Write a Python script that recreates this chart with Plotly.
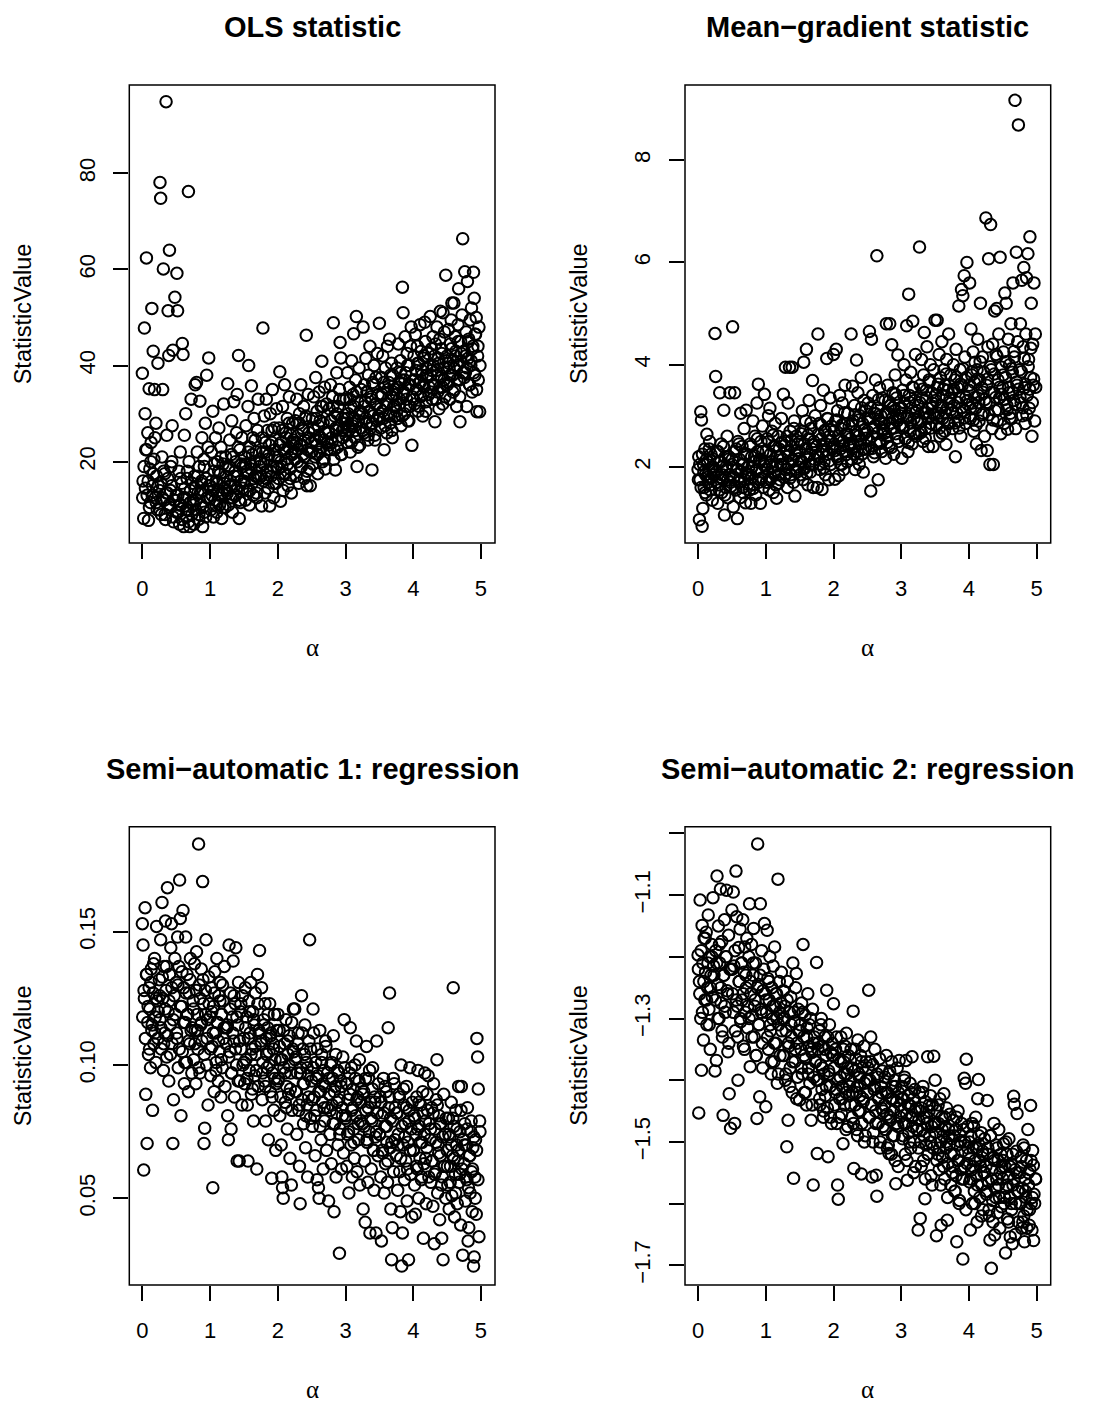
import plotly.graph_objects as go

W, H = 1097, 1405

# ---------------- data ----------------
# alpha draws with the scattered / outlying statistic values
alpha = [
    0.00,0.01,0.02,0.03,0.04,0.05,0.06,0.07,0.08,0.09,0.10,0.11,0.12,0.13,0.14,0.15,0.16,0.17,0.18,0.19,0.20,0.21,0.22,0.23,
    0.25,0.26,0.27,0.28,0.29,0.30,0.31,0.32,0.33,0.34,0.35,0.36,0.37,0.38,0.39,0.40,0.41,0.42,0.43,0.44,0.45,0.46,0.47,0.48,
    0.50,0.51,0.52,0.53,0.54,0.55,0.56,0.57,0.58,0.59,0.60,0.61,0.62,0.63,0.64,0.65,0.66,0.67,0.68,0.69,0.70,0.71,0.72,0.73,
    0.75,0.76,0.77,0.78,0.79,0.80,0.81,0.82,0.83,0.84,0.85,0.86,0.87,0.88,0.89,0.90,0.91,0.92,0.93,0.94,0.95,0.96,0.97,0.98,
    1.00,1.01,1.02,1.03,1.04,1.05,1.06,1.07,1.08,1.09,1.10,1.11,1.12,1.13,1.14,1.15,1.16,1.17,1.18,1.19,1.20,1.21,1.22,1.23,
    1.25,1.26,1.27,1.28,1.29,1.30,1.31,1.32,1.33,1.34,1.35,1.36,1.37,1.38,1.39,1.40,1.41,1.42,1.43,1.44,1.45,1.46,1.47,1.48,
    1.50,1.51,1.52,1.53,1.54,1.55,1.56,1.57,1.58,1.59,1.60,1.61,1.62,1.63,1.64,1.65,1.66,1.67,1.68,1.69,1.70,1.71,1.72,1.73,
    1.75,1.76,1.77,1.78,1.79,1.80,1.81,1.82,1.83,1.84,1.85,1.86,1.87,1.88,1.89,1.90,1.91,1.92,1.93,1.94,1.95,1.96,1.97,1.98,
    2.00,2.01,2.02,2.03,2.04,2.05,2.06,2.07,2.08,2.09,2.10,2.11,2.12,2.13,2.14,2.15,2.16,2.17,2.18,2.19,2.20,2.21,2.22,2.23,
    2.25,2.26,2.27,2.28,2.29,2.30,2.31,2.32,2.33,2.34,2.35,2.36,2.37,2.38,2.39,2.40,2.41,2.42,2.43,2.44,2.45,2.46,2.47,2.48,
    2.50,2.51,2.52,2.53,2.54,2.55,2.56,2.57,2.58,2.59,2.60,2.61,2.62,2.63,2.64,2.65,2.66,2.67,2.68,2.69,2.70,2.71,2.72,2.73,
    2.75,2.76,2.77,2.78,2.79,2.80,2.81,2.82,2.83,2.84,2.85,2.86,2.87,2.88,2.89,2.90,2.91,2.92,2.93,2.94,2.95,2.96,2.97,2.98,
    3.00,3.01,3.02,3.03,3.04,3.05,3.06,3.07,3.08,3.09,3.10,3.11,3.12,3.13,3.14,3.15,3.16,3.17,3.18,3.19,3.20,3.21,3.22,3.23,
    3.25,3.26,3.27,3.28,3.29,3.30,3.31,3.32,3.33,3.34,3.35,3.36,3.37,3.38,3.39,3.40,3.41,3.42,3.43,3.44,3.45,3.46,3.47,3.48,
    3.50,3.51,3.52,3.53,3.54,3.55,3.56,3.57,3.58,3.59,3.60,3.61,3.62,3.63,3.64,3.65,3.66,3.67,3.68,3.69,3.70,3.71,3.72,3.73,
    3.75,3.76,3.77,3.78,3.79,3.80,3.81,3.82,3.83,3.84,3.85,3.86,3.87,3.88,3.89,3.90,3.91,3.92,3.93,3.94,3.95,3.96,3.97,3.98,
    4.00,4.01,4.02,4.03,4.04,4.05,4.06,4.07,4.08,4.09,4.10,4.11,4.12,4.13,4.14,4.15,4.16,4.17,4.18,4.19,4.20,4.21,4.22,4.23,
    4.25,4.26,4.27,4.28,4.29,4.30,4.31,4.32,4.33,4.34,4.35,4.36,4.37,4.38,4.39,4.40,4.41,4.42,4.43,4.44,4.45,4.46,4.47,4.48,
    4.50,4.51,4.52,4.53,4.54,4.55,4.56,4.57,4.58,4.59,4.60,4.61,4.62,4.63,4.64,4.65,4.66,4.67,4.68,4.69,4.70,4.71,4.72,4.73,
    4.75,4.76,4.77,4.78,4.79,4.80,4.81,4.82,4.83,4.84,4.85,4.86,4.87,4.88,4.89,4.90,4.91,4.92,4.93,4.94,4.95,4.96,4.97,4.98,
]

ols_stat = [
    38.4,16.0,8.2,47.8,30.0,22.5,62.4,13.0,26.0,7.8,35.2,18.5,11.5,24.0,51.9,15.0,43.0,20.5,35.0,12.5,28.0,17.0,10.0,40.5,
    14.0,78.1,74.8,9.0,21.0,35.0,60.1,12.0,17.5,8.0,94.9,25.5,13.5,51.4,42.1,64.0,10.5,19.0,15.0,27.5,43.2,7.5,12.0,54.2,
    13.0,59.2,51.4,9.5,18.0,7.0,22.0,11.0,15.5,44.6,42.3,6.5,25.5,12.5,30.0,8.5,16.5,10.0,76.2,20.0,6.5,14.0,33.0,9.0,
    12.0,7.0,17.0,36.0,10.0,36.5,22.0,13.5,8.0,19.0,32.6,11.0,15.5,25.0,6.5,14.0,20.5,9.5,28.0,16.5,38.0,12.5,23.0,41.6,
    15.0,10.0,22.0,13.0,30.5,8.5,18.0,12.0,25.0,16.0,9.5,20.0,14.0,27.0,11.0,17.5,23.0,8.2,13.5,19.5,32.0,15.5,10.5,21.0,
    14.0,36.2,11.0,19.0,24.5,16.0,12.5,28.5,9.5,21.0,32.5,15.0,18.0,13.0,26.0,34.0,17.0,42.1,8.2,22.5,11.5,19.5,25.0,14.5,
    16.0,21.0,12.0,27.5,18.0,14.0,31.5,40.0,11.0,23.0,19.5,35.8,15.5,25.0,13.0,29.0,20.0,17.0,22.0,12.5,26.5,33.0,16.5,19.0,
    20.0,10.8,25.0,47.8,16.0,29.5,13.5,22.0,33.0,18.0,26.5,14.5,21.5,10.8,30.0,17.0,24.0,35.0,19.0,12.5,27.0,22.5,15.5,31.0,
    21.0,16.5,27.0,38.7,11.8,24.0,19.0,31.5,14.0,22.5,36.0,17.5,26.0,20.5,29.0,15.0,23.0,33.5,18.5,25.5,13.5,21.5,28.0,24.5,
    22.0,28.5,17.0,33.0,20.0,25.5,15.5,30.0,23.5,36.0,19.0,27.0,21.5,31.5,16.5,24.5,29.0,46.3,15.0,22.5,34.0,26.0,18.5,15.0,
    24.0,29.0,19.5,33.5,26.5,21.0,37.5,23.5,30.5,17.5,27.5,34.5,22.0,25.0,31.5,40.9,20.0,28.0,24.5,35.5,18.5,26.0,32.0,22.5,
    26.0,31.0,22.5,36.0,28.5,24.0,33.5,48.9,20.5,29.5,18.3,26.5,38.5,23.0,31.5,27.5,35.0,44.8,41.6,21.5,29.0,25.0,33.0,27.0,
    28.0,33.0,24.0,38.5,30.0,26.5,35.5,22.0,31.5,41.0,27.5,34.0,46.6,29.0,25.0,37.0,50.2,19.0,32.5,28.5,39.5,23.5,30.5,35.0,
    30.0,48.0,26.0,36.0,32.5,41.5,28.0,34.5,24.5,38.0,30.5,44.0,27.0,33.5,18.3,36.5,29.5,40.0,25.5,32.0,37.5,28.5,42.5,34.0,
    48.8,31.0,27.0,37.5,34.0,42.0,29.0,22.5,35.5,39.5,32.0,26.0,44.0,30.0,36.5,45.5,28.0,33.5,40.5,25.0,38.0,31.5,35.0,29.5,
    34.0,39.5,29.0,44.5,36.5,32.0,41.0,27.5,37.0,56.3,51.0,34.5,30.0,46.0,38.5,33.0,42.5,28.5,36.0,40.0,31.5,44.0,48.0,23.4,
    37.0,42.0,32.0,46.5,39.0,35.0,44.0,30.5,40.5,36.5,48.5,33.5,43.0,38.0,29.5,41.5,35.5,49.0,45.0,32.5,39.5,37.5,42.5,34.0,
    50.2,38.0,43.5,33.0,46.0,40.0,36.0,28.3,44.5,39.0,48.0,34.5,41.5,31.0,45.5,51.3,37.5,42.5,35.5,51.0,39.5,47.0,33.5,58.8,
    42.0,36.5,47.5,39.5,33.0,44.5,49.5,53.0,38.0,41.0,53.0,35.0,46.0,43.0,31.5,40.0,48.5,56.0,37.0,28.3,45.0,42.5,50.5,66.4,
    43.0,59.5,38.5,47.0,31.5,57.5,41.5,45.5,36.0,49.5,40.0,52.0,34.5,44.0,59.4,54.0,38.0,46.5,50.0,30.4,42.0,37.0,48.0,30.4,
]

meangrad_stat = [
    1.95,2.20,0.97,1.75,3.08,2.92,0.84,1.19,2.05,1.60,2.35,1.85,1.45,2.64,2.10,1.70,1.95,2.50,1.55,2.25,1.80,1.35,2.00,2.15,
    4.61,3.77,1.90,2.30,1.29,1.65,2.10,3.45,1.80,2.45,1.50,2.00,1.75,3.11,1.06,2.20,1.60,1.95,2.60,1.40,2.15,1.85,3.45,1.70,
    2.05,4.74,1.22,1.80,3.45,2.30,1.55,1.95,0.99,2.50,1.70,2.15,1.40,3.05,1.90,2.40,1.60,2.05,2.75,1.75,1.30,3.11,2.25,1.85,
    2.00,1.55,2.45,1.29,2.20,1.80,2.90,1.65,2.10,2.60,1.45,1.95,3.25,2.30,3.62,1.75,2.15,1.29,2.50,1.90,2.80,1.60,2.05,3.42,
    2.10,1.70,2.55,1.95,3.00,1.55,3.15,2.25,1.80,2.70,2.00,1.50,2.40,1.90,2.85,1.65,1.39,2.20,2.60,1.85,2.35,1.75,2.05,2.95,
    2.15,3.42,1.80,2.50,3.95,1.95,2.30,1.60,3.25,2.05,3.95,2.70,1.85,2.40,3.95,2.15,1.70,2.90,1.43,2.25,2.60,1.90,2.45,2.00,
    2.30,1.85,2.65,2.10,3.10,1.75,4.05,2.45,2.00,2.90,4.30,2.20,1.65,2.55,3.30,2.05,1.90,2.75,2.35,3.69,1.60,2.50,2.15,3.00,
    2.40,1.60,4.60,2.20,2.85,1.95,3.20,2.55,1.56,2.30,3.50,2.10,2.70,1.85,2.45,4.12,2.95,2.25,1.75,2.60,3.35,2.05,2.80,2.35,
    4.20,2.45,1.76,2.90,4.30,2.20,3.10,2.60,1.83,3.40,2.35,2.75,2.05,3.25,2.50,1.95,2.85,3.60,2.30,2.65,2.10,3.05,2.40,2.80,
    2.55,4.60,2.15,3.58,2.90,2.40,3.20,1.95,2.70,4.09,2.30,3.45,2.60,2.05,3.00,2.45,3.75,2.25,2.85,1.90,3.30,2.65,2.35,3.10,
    2.70,3.25,2.35,4.65,2.95,1.53,4.50,2.60,3.40,2.20,3.05,2.80,3.70,2.45,6.13,3.15,1.75,2.90,3.55,2.50,3.00,2.30,3.35,2.75,
    2.85,3.30,2.17,4.80,2.60,3.60,3.05,2.40,4.80,3.20,2.75,4.39,2.95,3.45,2.25,3.10,3.80,2.65,3.35,2.90,4.19,2.50,3.15,3.00,
    3.05,2.17,3.50,2.80,4.00,3.25,2.55,3.70,4.76,3.00,2.30,5.38,3.40,2.70,3.85,3.15,2.45,4.85,3.55,2.95,3.30,4.20,2.60,3.10,
    3.20,2.65,6.30,3.60,2.90,4.10,3.35,2.50,3.80,4.63,3.05,2.75,3.50,4.35,3.15,2.40,3.70,3.00,4.00,2.85,3.45,3.25,2.40,3.90,
    4.87,3.30,2.80,4.87,3.55,3.05,4.20,2.60,3.75,3.20,4.45,2.95,3.40,3.90,2.70,3.60,2.44,4.10,3.15,3.50,4.60,2.85,3.35,3.80,
    3.45,2.75,4.00,3.20,3.70,2.20,4.30,3.05,3.55,2.90,5.15,3.35,3.90,2.60,5.47,3.60,5.35,3.10,5.74,4.15,2.85,3.75,6.00,3.30,
    3.50,5.60,2.95,4.70,3.80,3.25,4.25,2.70,3.65,4.05,3.15,2.45,3.90,4.50,3.40,2.90,3.70,5.20,2.32,3.55,4.15,3.05,3.85,2.60,
    6.87,3.60,2.32,4.35,6.07,3.25,2.05,6.74,3.90,2.75,4.40,2.05,3.45,5.05,3.10,4.20,5.10,2.90,3.70,4.60,3.35,6.10,2.65,3.95,
    3.55,4.25,2.85,5.40,3.75,5.20,3.20,2.74,4.50,3.45,4.00,3.05,4.80,2.95,3.85,5.60,3.30,4.15,9.17,2.75,6.20,3.60,4.45,8.69,
    3.90,4.80,3.25,5.65,3.00,4.35,5.90,3.55,2.85,4.60,5.70,3.40,6.17,4.10,3.15,6.50,3.75,5.20,2.60,4.40,3.60,5.60,2.90,4.60,
]

semi1_stat = [
    0.153,0.145,0.0606,0.125,0.159,0.089,0.134,0.0706,0.116,0.104,0.129,0.121,0.099,0.136,0.113,0.083,0.127,0.108,0.140,0.118,0.101,0.152,0.124,0.110,
    0.132,0.117,0.147,0.106,0.161,0.125,0.098,0.137,0.112,0.154,0.128,0.103,0.1665,0.120,0.094,0.134,0.115,0.144,0.153,0.108,0.0706,0.087,0.126,0.140,
    0.131,0.110,0.148,0.099,0.137,0.1694,0.155,0.081,0.122,0.105,0.158,0.129,0.093,0.116,0.148,0.101,0.134,0.119,0.090,0.127,0.108,0.140,0.113,0.097,
    0.124,0.102,0.138,0.113,0.093,0.1425,0.119,0.106,0.1829,0.130,0.097,0.115,0.136,0.109,0.1688,0.123,0.0706,0.0763,0.128,0.147,0.100,0.117,0.085,0.133,
    0.118,0.096,0.129,0.107,0.054,0.122,0.090,0.135,0.112,0.101,0.140,0.116,0.094,0.126,0.105,0.131,0.088,0.119,0.099,0.124,0.110,0.137,0.092,0.114,
    0.114,0.081,0.072,0.145,0.105,0.127,0.076,0.097,0.118,0.139,0.109,0.088,0.123,0.144,0.100,0.064,0.115,0.131,0.064,0.094,0.120,0.106,0.085,0.126,
    0.110,0.093,0.129,0.102,0.118,0.085,0.064,0.124,0.098,0.112,0.131,0.089,0.106,0.120,0.079,0.115,0.096,0.127,0.104,0.061,0.134,0.092,0.113,0.143,
    0.108,0.129,0.087,0.101,0.117,0.094,0.123,0.079,0.110,0.099,0.114,0.072,0.105,0.123,0.090,0.112,0.0575,0.097,0.108,0.083,0.119,0.102,0.068,0.093,
    0.119,0.095,0.113,0.081,0.102,0.070,0.058,0.054,0.050,0.099,0.108,0.086,0.117,0.092,0.076,0.104,0.089,0.111,0.065,0.097,0.055,0.083,0.106,0.121,
    0.121,0.090,0.103,0.074,0.097,0.112,0.083,0.062,0.048,0.099,0.126,0.087,0.106,0.078,0.093,0.115,0.069,0.101,0.085,0.058,0.096,0.109,0.147,0.080,
    0.094,0.077,0.121,0.112,0.088,0.066,0.101,0.083,0.057,0.096,0.054,0.050,0.113,0.090,0.072,0.104,0.086,0.061,0.098,0.079,0.092,0.107,0.068,0.084,
    0.049,0.089,0.074,0.100,0.063,0.085,0.095,0.111,0.045,0.078,0.092,0.058,0.082,0.098,0.070,0.087,0.0294,0.076,0.094,0.061,0.084,0.103,0.067,0.117,
    0.080,0.093,0.062,0.074,0.087,0.052,0.097,0.114,0.070,0.083,0.058,0.091,0.076,0.065,0.100,0.081,0.109,0.060,0.088,0.072,0.094,0.055,0.079,0.086,
    0.078,0.046,0.090,0.064,0.041,0.083,0.107,0.071,0.056,0.095,0.075,0.037,0.086,0.061,0.079,0.099,0.068,0.053,0.088,0.073,0.037,0.109,0.082,0.066,
    0.074,0.088,0.058,0.034,0.081,0.067,0.095,0.052,0.077,0.063,0.090,0.071,0.056,0.114,0.084,0.127,0.069,0.046,0.027,0.039,0.079,0.060,0.093,0.072,
    0.066,0.082,0.053,0.074,0.089,0.060,0.045,0.100,0.0246,0.037,0.070,0.085,0.057,0.078,0.064,0.092,0.049,0.071,0.027,0.083,0.099,0.059,0.076,0.043,
    0.068,0.081,0.055,0.044,0.074,0.088,0.061,0.098,0.050,0.077,0.065,0.085,0.057,0.071,0.090,0.035,0.063,0.097,0.079,0.048,0.069,0.083,0.096,0.058,
    0.072,0.056,0.084,0.064,0.047,0.093,0.033,0.076,0.060,0.087,0.102,0.052,0.070,0.081,0.042,0.066,0.078,0.035,0.058,0.027,0.089,0.062,0.074,0.050,
    0.068,0.055,0.080,0.046,0.073,0.062,0.086,0.051,0.066,0.129,0.077,0.043,0.059,0.083,0.070,0.048,0.064,0.092,0.056,0.075,0.040,0.092,0.061,0.0287,
    0.063,0.078,0.049,0.070,0.057,0.084,0.034,0.039,0.066,0.052,0.075,0.060,0.045,0.069,0.0246,0.028,0.058,0.072,0.044,0.110,0.103,0.091,0.0356,0.079,
]

semi2_stat = [
    -1.197,-1.453,-1.240,-1.108,-1.300,-1.384,-1.149,-1.210,-1.335,-1.170,-1.270,-1.225,-1.160,-1.310,-1.250,-1.132,-1.285,-1.200,-1.350,-1.230,-1.180,-1.265,-1.104,-1.215,
    -1.385,-1.190,-1.368,-1.069,-1.245,-1.150,-1.300,-1.210,-1.090,-1.275,-1.175,-1.330,-1.457,-1.230,-1.140,-1.290,-1.200,-1.092,-1.255,-1.354,-1.165,-1.422,-1.220,-1.478,
    -1.124,-1.260,-1.095,-1.215,-1.470,-1.320,-1.061,-1.135,-1.280,-1.400,-1.185,-1.240,-1.155,-1.305,-1.210,-1.270,-1.140,-1.345,-1.225,-1.184,-1.290,-1.250,-1.170,-1.315,
    -1.200,-1.114,-1.378,-1.260,-1.180,-1.295,-1.230,-1.154,-1.330,-1.270,-1.210,-1.360,-1.462,-1.017,-1.245,-1.310,-1.427,-1.114,-1.285,-1.190,-1.340,-1.255,-1.220,-1.146,
    -1.443,-1.290,-1.157,-1.235,-1.350,-1.270,-1.200,-1.320,-1.390,-1.250,-1.300,-1.215,-1.370,-1.184,-1.280,-1.340,-1.260,-1.405,-1.074,-1.310,-1.240,-1.360,-1.275,-1.225,
    -1.300,-1.255,-1.360,-1.280,-1.400,-1.320,-1.508,-1.240,-1.465,-1.345,-1.290,-1.380,-1.265,-1.330,-1.420,-1.210,-1.559,-1.305,-1.370,-1.250,-1.227,-1.340,-1.395,-1.285,
    -1.432,-1.310,-1.350,-1.275,-1.390,-1.180,-1.330,-1.420,-1.295,-1.365,-1.440,-1.315,-1.260,-1.380,-1.345,-1.405,-1.300,-1.465,-1.355,-1.285,-1.570,-1.395,-1.330,-1.370,
    -1.209,-1.519,-1.350,-1.400,-1.320,-1.440,-1.375,-1.300,-1.415,-1.345,-1.460,-1.390,-1.330,-1.425,-1.360,-1.254,-1.445,-1.524,-1.385,-1.310,-1.410,-1.355,-1.470,-1.340,
    -1.276,-1.380,-1.440,-1.350,-1.415,-1.470,-1.570,-1.593,-1.365,-1.430,-1.395,-1.330,-1.455,-1.410,-1.503,-1.370,-1.440,-1.345,-1.420,-1.324,-1.390,-1.475,-1.360,-1.425,
    -1.400,-1.350,-1.460,-1.420,-1.288,-1.543,-1.385,-1.440,-1.365,-1.480,-1.410,-1.335,-1.450,-1.395,-1.425,-1.360,-1.552,-1.470,-1.380,-1.435,-1.345,-1.405,-1.490,-1.370,
    -1.420,-1.380,-1.254,-1.460,-1.400,-1.330,-1.440,-1.557,-1.375,-1.485,-1.415,-1.350,-1.450,-1.554,-1.588,-1.395,-1.470,-1.430,-1.365,-1.500,-1.410,-1.445,-1.385,-1.475,
    -1.440,-1.395,-1.480,-1.360,-1.455,-1.420,-1.505,-1.519,-1.385,-1.465,-1.430,-1.370,-1.490,-1.410,-1.450,-1.400,-1.530,-1.568,-1.435,-1.380,-1.475,-1.420,-1.368,-1.460,
    -1.450,-1.410,-1.495,-1.430,-1.470,-1.395,-1.520,-1.368,-1.455,-1.562,-1.425,-1.485,-1.440,-1.405,-1.510,-1.460,-1.362,-1.475,-1.430,-1.500,-1.415,-1.540,-1.445,-1.480,
    -1.643,-1.465,-1.420,-1.624,-1.500,-1.445,-1.480,-1.410,-1.530,-1.460,-1.592,-1.435,-1.505,-1.470,-1.362,-1.520,-1.450,-1.490,-1.425,-1.555,-1.475,-1.440,-1.510,-1.361,
    -1.400,-1.485,-1.652,-1.450,-1.520,-1.470,-1.545,-1.430,-1.500,-1.635,-1.460,-1.525,-1.490,-1.422,-1.560,-1.475,-1.510,-1.445,-1.627,-1.535,-1.480,-1.505,-1.455,-1.570,
    -1.495,-1.540,-1.465,-1.520,-1.580,-1.480,-1.555,-1.662,-1.505,-1.450,-1.530,-1.595,-1.490,-1.545,-1.470,-1.515,-1.690,-1.560,-1.397,-1.500,-1.405,-1.366,-1.535,-1.475,
    -1.520,-1.565,-1.643,-1.490,-1.545,-1.600,-1.510,-1.475,-1.580,-1.530,-1.460,-1.555,-1.630,-1.430,-1.399,-1.505,-1.590,-1.540,-1.485,-1.570,-1.515,-1.610,-1.550,-1.495,
    -1.540,-1.585,-1.433,-1.510,-1.565,-1.620,-1.659,-1.490,-1.705,-1.545,-1.595,-1.525,-1.470,-1.651,-1.575,-1.505,-1.560,-1.615,-1.530,-1.480,-1.590,-1.550,-1.520,-1.605,
    -1.560,-1.503,-1.600,-1.540,-1.680,-1.575,-1.520,-1.625,-1.555,-1.495,-1.590,-1.654,-1.535,-1.610,-1.665,-1.570,-1.426,-1.439,-1.545,-1.600,-1.515,-1.454,-1.580,-1.630,
    -1.550,-1.600,-1.525,-1.640,-1.575,-1.505,-1.620,-1.662,-1.560,-1.590,-1.530,-1.610,-1.480,-1.570,-1.635,-1.545,-1.441,-1.600,-1.643,-1.514,-1.538,-1.585,-1.600,-1.560,
]

# further alpha draws that sit inside the dense (nearly black) core of each panel
alpha_core = [
    0.005,0.025,0.045,0.065,0.085,0.105,0.125,0.145,0.165,0.185,0.205,0.235,
    0.255,0.275,0.295,0.315,0.335,0.355,0.375,0.395,0.415,0.435,0.455,0.485,
    0.505,0.525,0.545,0.565,0.585,0.605,0.625,0.645,0.665,0.685,0.705,0.735,
    0.755,0.775,0.795,0.815,0.835,0.855,0.875,0.895,0.915,0.935,0.955,0.985,
    1.005,1.025,1.045,1.065,1.085,1.105,1.125,1.145,1.165,1.185,1.205,1.235,
    1.255,1.275,1.295,1.315,1.335,1.355,1.375,1.395,1.415,1.435,1.455,1.485,
    1.505,1.525,1.545,1.565,1.585,1.605,1.625,1.645,1.665,1.685,1.705,1.735,
    1.755,1.775,1.795,1.815,1.835,1.855,1.875,1.895,1.915,1.935,1.955,1.985,
    2.005,2.025,2.045,2.065,2.085,2.105,2.125,2.145,2.165,2.185,2.205,2.235,
    2.255,2.275,2.295,2.315,2.335,2.355,2.375,2.395,2.415,2.435,2.455,2.485,
    2.505,2.525,2.545,2.565,2.585,2.605,2.625,2.645,2.665,2.685,2.705,2.735,
    2.755,2.775,2.795,2.815,2.835,2.855,2.875,2.895,2.915,2.935,2.955,2.985,
    3.005,3.025,3.045,3.065,3.085,3.105,3.125,3.145,3.165,3.185,3.205,3.235,
    3.255,3.275,3.295,3.315,3.335,3.355,3.375,3.395,3.415,3.435,3.455,3.485,
    3.505,3.525,3.545,3.565,3.585,3.605,3.625,3.645,3.665,3.685,3.705,3.735,
    3.755,3.775,3.795,3.815,3.835,3.855,3.875,3.895,3.915,3.935,3.955,3.985,
    4.005,4.025,4.045,4.065,4.085,4.105,4.125,4.145,4.165,4.185,4.205,4.235,
    4.255,4.275,4.295,4.315,4.335,4.355,4.375,4.395,4.415,4.435,4.455,4.485,
    4.505,4.525,4.545,4.565,4.585,4.605,4.625,4.645,4.665,4.685,4.705,4.735,
    4.755,4.775,4.795,4.815,4.835,4.855,4.875,4.895,4.915,4.935,4.955,4.985,
]

ols_core = [
    12.5,19.0,14.5,22.5,16.0,10.5,20.0,13.0,17.5,25.0,11.5,15.0,
    10.0,15.5,12.5,18.0,9.0,13.5,16.5,11.0,14.0,20.0,8.5,12.0,
    9.5,13.0,11.0,16.5,8.0,12.5,14.5,10.0,18.0,7.5,11.5,15.5,
    11.0,14.5,12.0,17.0,9.0,13.5,16.0,10.5,19.0,8.5,12.5,15.0,
    12.5,16.0,14.0,19.5,11.0,15.5,18.0,13.0,21.0,10.5,14.5,17.0,
    13.5,18.5,15.0,21.5,12.5,17.0,20.0,14.5,23.0,12.0,16.0,19.0,
    15.5,19.5,17.5,22.0,14.0,18.5,21.5,16.5,24.5,13.5,17.0,20.5,
    17.0,22.0,19.5,24.0,16.5,20.5,23.5,18.0,26.5,15.5,21.0,19.0,
    18.5,23.5,20.0,26.5,17.5,22.0,25.0,19.5,28.0,16.5,21.5,24.0,
    20.5,24.0,22.5,28.0,19.0,23.5,26.5,21.0,29.5,18.0,25.0,22.0,
    22.0,27.0,24.5,29.0,21.5,25.5,28.5,23.0,31.5,20.5,26.0,24.0,
    23.5,28.5,25.0,31.5,22.5,27.0,30.0,24.5,33.0,21.5,26.5,29.0,
    25.5,29.0,27.5,33.0,24.0,28.0,31.5,26.5,34.5,23.0,30.0,27.0,
    26.5,31.5,29.0,34.5,25.5,30.5,33.0,28.0,36.0,24.5,32.0,29.5,
    29.0,33.5,30.5,36.5,27.5,32.0,35.0,29.5,38.0,26.5,34.0,31.5,
    30.5,35.5,33.0,38.5,29.5,34.0,37.0,31.5,40.0,28.5,36.0,33.5,
    33.0,37.0,35.0,40.5,31.5,36.5,39.0,34.0,42.0,30.5,38.0,35.5,
    34.5,39.0,36.0,42.0,33.0,38.0,40.5,35.5,43.5,32.0,37.0,41.0,
    36.0,40.5,38.0,43.5,34.5,39.5,42.0,37.0,45.0,33.5,41.0,38.5,
    37.5,42.0,39.5,45.0,36.0,41.0,43.5,38.5,46.5,35.0,44.0,40.0,
]

meangrad_core = [
    1.75,2.05,1.60,2.25,1.90,1.50,2.15,1.80,2.35,1.65,2.00,1.85,
    1.95,1.70,2.30,1.55,2.10,1.85,2.40,1.45,2.00,1.75,2.20,1.62,
    2.15,1.80,1.60,2.35,1.95,2.45,1.72,2.05,1.50,2.25,1.88,1.66,
    1.85,2.40,2.00,1.58,2.22,1.92,2.55,1.70,2.12,1.78,2.30,2.02,
    2.30,1.95,2.50,1.75,2.10,2.62,1.88,2.40,2.02,1.68,2.20,2.48,
    2.05,2.42,1.86,2.60,2.22,1.78,2.52,2.12,2.75,1.95,2.32,2.16,
    2.50,2.12,2.70,1.96,2.36,1.88,2.62,2.24,2.86,2.04,2.44,2.28,
    2.22,2.64,2.06,2.82,2.40,1.98,2.72,2.32,2.94,2.12,2.52,2.38,
    2.70,2.32,2.92,2.16,2.52,2.06,2.82,2.42,3.06,2.24,2.62,2.46,
    2.42,2.84,2.26,3.02,2.62,2.18,2.92,2.52,3.16,2.34,2.72,2.56,
    2.95,2.52,3.16,2.36,2.76,2.28,3.04,2.66,3.32,2.46,2.86,2.72,
    2.66,3.06,2.48,3.28,2.86,2.38,3.16,2.76,3.42,2.56,2.96,2.82,
    3.15,2.76,3.40,2.56,2.96,2.48,3.26,2.86,3.56,2.66,3.06,2.92,
    2.86,3.26,2.68,3.52,3.06,2.56,3.36,2.96,3.66,2.76,3.16,3.02,
    3.40,2.96,3.62,2.76,3.16,2.66,3.52,3.06,3.82,2.86,3.26,3.12,
    3.06,3.52,2.86,3.76,3.26,2.76,3.62,3.16,3.92,2.96,3.36,3.22,
    3.60,3.16,3.86,2.92,3.36,2.82,3.72,3.26,4.06,3.02,3.46,3.32,
    3.26,3.72,3.02,3.96,3.46,2.92,3.82,3.36,4.16,3.12,3.56,3.42,
    3.80,3.32,4.06,3.12,3.56,2.96,3.92,3.46,4.26,3.22,3.66,3.52,
    3.36,3.86,3.16,4.12,3.62,3.02,3.96,3.52,4.32,3.26,3.72,3.56,
]

semi1_core = [
    0.118,0.128,0.110,0.134,0.122,0.106,0.131,0.115,0.138,0.112,0.125,0.120,
    0.126,0.114,0.133,0.108,0.121,0.137,0.111,0.124,0.104,0.129,0.117,0.119,
    0.112,0.130,0.106,0.122,0.135,0.116,0.101,0.127,0.119,0.109,0.132,0.114,
    0.121,0.108,0.128,0.113,0.099,0.125,0.116,0.132,0.104,0.119,0.110,0.123,
    0.106,0.120,0.112,0.127,0.098,0.116,0.109,0.124,0.102,0.130,0.114,0.108,
    0.115,0.103,0.121,0.097,0.112,0.126,0.106,0.118,0.094,0.109,0.123,0.100,
    0.101,0.114,0.095,0.110,0.120,0.104,0.091,0.117,0.107,0.098,0.123,0.112,
    0.109,0.097,0.115,0.092,0.104,0.119,0.100,0.111,0.088,0.106,0.095,0.113,
    0.094,0.107,0.088,0.102,0.113,0.097,0.084,0.109,0.100,0.091,0.116,0.105,
    0.102,0.090,0.108,0.085,0.097,0.112,0.093,0.104,0.081,0.099,0.088,0.106,
    0.087,0.099,0.081,0.095,0.106,0.090,0.077,0.101,0.093,0.084,0.109,0.097,
    0.095,0.083,0.101,0.078,0.090,0.104,0.086,0.097,0.074,0.092,0.081,0.099,
    0.081,0.093,0.075,0.089,0.099,0.084,0.071,0.095,0.087,0.078,0.102,0.091,
    0.089,0.077,0.095,0.072,0.084,0.098,0.080,0.091,0.068,0.086,0.075,0.093,
    0.074,0.086,0.068,0.082,0.092,0.077,0.064,0.088,0.080,0.071,0.095,0.084,
    0.082,0.070,0.088,0.065,0.077,0.091,0.073,0.084,0.061,0.079,0.068,0.086,
    0.068,0.080,0.062,0.076,0.086,0.071,0.058,0.082,0.074,0.065,0.089,0.078,
    0.076,0.064,0.082,0.059,0.071,0.085,0.067,0.078,0.055,0.073,0.062,0.080,
    0.062,0.074,0.056,0.070,0.080,0.065,0.052,0.076,0.068,0.059,0.083,0.072,
    0.070,0.058,0.076,0.054,0.066,0.079,0.061,0.073,0.050,0.068,0.057,0.075,
]

semi2_core = [
    -1.22,-1.26,-1.19,-1.29,-1.24,-1.17,-1.27,-1.21,-1.31,-1.25,-1.20,-1.23,
    -1.27,-1.21,-1.30,-1.18,-1.25,-1.32,-1.23,-1.28,-1.20,-1.26,-1.34,-1.22,
    -1.22,-1.29,-1.19,-1.27,-1.33,-1.24,-1.30,-1.21,-1.26,-1.35,-1.23,-1.28,
    -1.30,-1.24,-1.33,-1.21,-1.28,-1.36,-1.25,-1.31,-1.23,-1.29,-1.38,-1.26,
    -1.27,-1.33,-1.24,-1.31,-1.37,-1.28,-1.34,-1.26,-1.30,-1.39,-1.29,-1.32,
    -1.36,-1.30,-1.39,-1.27,-1.34,-1.41,-1.31,-1.37,-1.29,-1.35,-1.43,-1.32,
    -1.32,-1.38,-1.29,-1.36,-1.42,-1.33,-1.39,-1.31,-1.35,-1.44,-1.34,-1.37,
    -1.40,-1.34,-1.43,-1.31,-1.38,-1.45,-1.35,-1.41,-1.33,-1.39,-1.46,-1.36,
    -1.36,-1.42,-1.33,-1.40,-1.46,-1.37,-1.43,-1.35,-1.39,-1.48,-1.38,-1.41,
    -1.44,-1.38,-1.47,-1.35,-1.42,-1.49,-1.39,-1.45,-1.37,-1.43,-1.50,-1.40,
    -1.40,-1.46,-1.37,-1.44,-1.50,-1.41,-1.47,-1.39,-1.43,-1.51,-1.42,-1.45,
    -1.48,-1.42,-1.51,-1.39,-1.46,-1.52,-1.43,-1.49,-1.41,-1.47,-1.54,-1.44,
    -1.43,-1.49,-1.40,-1.47,-1.53,-1.44,-1.50,-1.42,-1.46,-1.55,-1.45,-1.48,
    -1.51,-1.45,-1.54,-1.42,-1.49,-1.56,-1.46,-1.52,-1.44,-1.50,-1.57,-1.47,
    -1.47,-1.53,-1.44,-1.51,-1.57,-1.48,-1.54,-1.46,-1.50,-1.59,-1.49,-1.52,
    -1.55,-1.49,-1.58,-1.46,-1.53,-1.60,-1.50,-1.56,-1.48,-1.54,-1.61,-1.51,
    -1.50,-1.56,-1.47,-1.54,-1.60,-1.51,-1.57,-1.49,-1.53,-1.62,-1.52,-1.55,
    -1.58,-1.52,-1.61,-1.49,-1.56,-1.63,-1.53,-1.59,-1.51,-1.57,-1.64,-1.54,
    -1.53,-1.59,-1.50,-1.57,-1.63,-1.54,-1.60,-1.52,-1.56,-1.65,-1.55,-1.58,
    -1.60,-1.54,-1.63,-1.51,-1.58,-1.64,-1.55,-1.61,-1.53,-1.59,-1.66,-1.56,
]

titles = ["OLS statistic", "Mean\u2212gradient statistic",
          "Semi\u2212automatic 1: regression", "Semi\u2212automatic 2: regression"]
x_tick_vals = [0, 1, 2, 3, 4, 5]
y_tick_vals = [[20, 40, 60, 80], [2, 4, 6, 8], [0.05, 0.10, 0.15],
               [-1.7, -1.6, -1.5, -1.4, -1.3, -1.2, -1.1, -1.0]]
y_tick_text = [["20", "40", "60", "80"], ["2", "4", "6", "8"], ["0.05", "0.10", "0.15"],
               ["\u22121.7", "", "\u22121.5", "", "\u22121.3", "", "\u22121.1", ""]]
series = [ols_stat, meangrad_stat, semi1_stat, semi2_stat]
series_core = [ols_core, meangrad_core, semi1_core, semi2_core]

for s in series:
    if len(s) != len(alpha):
        raise ValueError("length mismatch %d vs %d" % (len(s), len(alpha)))
for s in series_core:
    if len(s) != len(alpha_core):
        raise ValueError("core length mismatch %d vs %d" % (len(s), len(alpha_core)))

# ---------------- layout (pixel boxes of the four plot regions) ----------------
boxes = [  # left, right, top, bottom in px
    (129.3, 495.0, 85.0, 543.0),
    (685.0, 1050.7, 85.0, 543.0),
    (129.3, 495.0, 826.7, 1285.0),
    (685.0, 1050.7, 826.7, 1285.0),
]
x_range = [-0.193, 5.207]
y_ranges = [[3.09, 98.37], [0.513, 9.47], [0.0175, 0.1894], [-1.732, -0.989]]

FONT = "Liberation Sans, Arial, Helvetica, sans-serif"
TICK_SIZE = 22

fig = go.Figure()
annotations = []
shapes = []
layout_axes = {}

for i in range(4):
    n = "" if i == 0 else str(i + 1)
    l, r, t, b = boxes[i]
    fig.add_trace(go.Scatter(
        x=alpha + alpha_core, y=series[i] + series_core[i], mode="markers",
        xaxis="x" + n, yaxis="y" + n,
        marker=dict(symbol="circle-open", size=11.5, color="black",
                    line=dict(width=2, color="black")),
        hoverinfo="x+y", showlegend=False,
    ))
    common = dict(ticks="outside", ticklen=15, tickwidth=1.5, tickcolor="black",
                  showgrid=False, zeroline=False, showline=False,
                  tickfont=dict(family=FONT, size=TICK_SIZE, color="black"))
    layout_axes["xaxis" + n] = dict(
        domain=[l / W, r / W], range=x_range, anchor="y" + n,
        tickmode="array", tickvals=x_tick_vals,
        ticktext=[str(v) for v in x_tick_vals],
        ticklabelstandoff=11, **common)
    layout_axes["yaxis" + n] = dict(
        domain=[1 - b / H, 1 - t / H], range=y_ranges[i], anchor="x" + n,
        tickmode="array", tickvals=y_tick_vals[i], ticktext=y_tick_text[i],
        tickangle=-90, ticklabelstandoff=10, **common)
    shapes.append(dict(type="rect", xref="x" + n + " domain", yref="y" + n + " domain",
                       x0=0, x1=1, y0=0, y1=1, line=dict(color="black", width=1.5),
                       fillcolor="rgba(0,0,0,0)", layer="above"))
    cx = (l + r) / 2 / W
    cy = 1 - (t + b) / 2 / H
    # title
    annotations.append(dict(text="<b>%s</b>" % titles[i], x=cx, y=1 - (t - 58) / H,
                            xref="paper", yref="paper", showarrow=False,
                            xanchor="center", yanchor="middle",
                            font=dict(family=FONT, size=29, color="black")))
    # x label
    annotations.append(dict(text="\u03b1", x=cx, y=1 - (b + 104) / H,
                            xref="paper", yref="paper", showarrow=False,
                            xanchor="center", yanchor="middle",
                            font=dict(family="Liberation Serif, DejaVu Serif, serif",
                                      size=25, color="black")))
    # y label
    annotations.append(dict(text="StatisticValue", x=(l - 106) / W, y=cy,
                            xref="paper", yref="paper", showarrow=False,
                            textangle=-90, xanchor="center", yanchor="middle",
                            font=dict(family=FONT, size=23.5, color="black")))

fig.update_layout(
    width=W, height=H, autosize=False,
    margin=dict(l=0, r=0, t=0, b=0),
    paper_bgcolor="white", plot_bgcolor="white",
    showlegend=False, annotations=annotations, shapes=shapes,
    font=dict(family=FONT, color="black"),
    **layout_axes,
)

fig.write_html("out.html")
